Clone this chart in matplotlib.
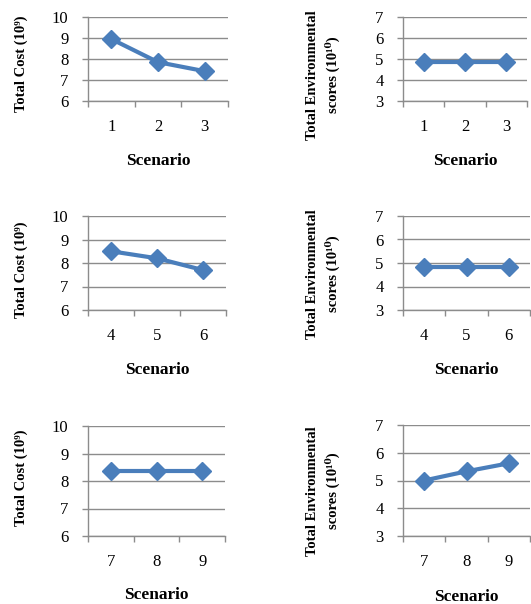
import matplotlib
matplotlib.use("Agg")
import matplotlib.pyplot as plt

plt.rcParams['font.family'] = ['Liberation Serif', 'DejaVu Serif']

# ---- data ----
scen_a = ["1", "2", "3"]
scen_b = ["4", "5", "6"]
scen_c = ["7", "8", "9"]
cost_a = [8.95, 7.85, 7.42]
cost_b = [8.50, 8.20, 7.70]
cost_c = [8.38, 8.38, 8.38]
env_a = [4.87, 4.87, 4.87]
env_b = [4.82, 4.82, 4.82]
env_c = [5.00, 5.33, 5.62]
cost_ticks = [6, 7, 8, 9, 10]
env_ticks = [3, 4, 5, 6, 7]

cost_label = "Total Cost (10\u2079)"
env_label = "Total Environmental\nscores (10\u00b9\u2070)"
x_label = "Scenario"

W, H = 531, 604
DPI = 100
fig = plt.figure(figsize=(W / DPI, H / DPI), dpi=DPI)

LINE = "#4A7EBB"
GRID = "#8C8C8C"


def px_axes(x0, x1, y0, y1):
    return fig.add_axes([x0 / W, 1 - y1 / H, (x1 - x0) / W, (y1 - y0) / H])


def draw(ax, cats, vals, yticks, ylabel, box, ylab_px, xlab_py):
    x0, x1, y0, y1 = box
    pos = list(range(1, len(cats) + 1))
    ax.plot(pos, vals, color=LINE, lw=3.0, marker='D', markersize=9.5,
            markeredgecolor=LINE, markerfacecolor=LINE, zorder=3, clip_on=False)
    ax.set_xlim(0.5, len(cats) + 0.5)
    ax.set_ylim(yticks[0], yticks[-1])
    ax.set_xticks(pos)
    ax.set_xticklabels(cats)
    ax.set_xticks([p - 0.5 for p in pos] + [pos[-1] + 0.5], minor=True)
    ax.set_yticks(yticks)
    ax.tick_params(axis='x', which='major', length=0, pad=13, labelsize=12)
    ax.tick_params(axis='x', which='minor', length=4, width=1, color=GRID, direction='out')
    ax.tick_params(axis='y', length=4, width=1, color=GRID, direction='out', pad=10, labelsize=12)
    ax.grid(axis='y', color=GRID, lw=1.0)
    ax.set_axisbelow(True)
    for s in ('top', 'right'):
        ax.spines[s].set_visible(False)
    for s in ('left', 'bottom'):
        ax.spines[s].set_color(GRID)
        ax.spines[s].set_linewidth(1.0)
    ax.set_ylabel(ylabel, fontsize=10.5, fontweight='bold', linespacing=1.5)
    lx, ly = ylab_px
    ax.yaxis.set_label_coords((lx - x0) / (x1 - x0), 1 - (ly - y0) / (y1 - y0))
    ax.set_xlabel(x_label, fontsize=12.5, fontweight='bold')
    ax.xaxis.label.set_va('center')
    ax.xaxis.set_label_coords(0.5, 1 - (xlab_py - y0) / (y1 - y0))


boxes = {
    'tl': (88, 228, 17, 101),
    'tr': (403, 527, 17, 101),
    'ml': (88, 226, 216, 310),
    'mr': (403, 530, 216, 310),
    'bl': (88, 225, 426, 536),
    'br': (403, 530, 425, 536),
}

ax = px_axes(*boxes['tl'])
draw(ax, scen_a, cost_a, cost_ticks, cost_label, boxes['tl'], (28, 64), 161)
ax = px_axes(*boxes['tr'])
draw(ax, scen_a, env_a, env_ticks, env_label, boxes['tr'], (340, 75), 161)
ax = px_axes(*boxes['ml'])
draw(ax, scen_b, cost_b, cost_ticks, cost_label, boxes['ml'], (28, 270), 370)
ax = px_axes(*boxes['mr'])
draw(ax, scen_b, env_b, env_ticks, env_label, boxes['mr'], (340, 274), 370)
ax = px_axes(*boxes['bl'])
draw(ax, scen_c, cost_c, cost_ticks, cost_label, boxes['bl'], (28, 478), 595)
ax = px_axes(*boxes['br'])
draw(ax, scen_c, env_c, env_ticks, env_label, boxes['br'], (340, 491), 597)

fig.savefig("out.png", dpi=DPI)
